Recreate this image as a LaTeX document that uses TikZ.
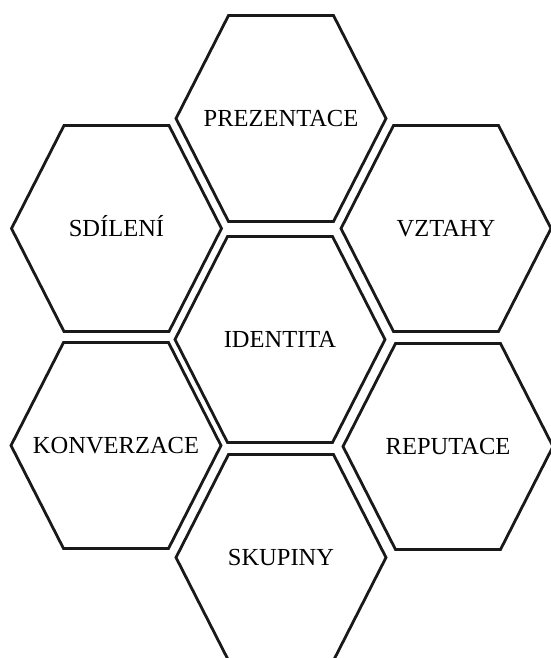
\documentclass[tikz,border=0pt]{standalone}
\usepackage{fontspec}
\setmainfont{Liberation Serif}

\begin{document}
\begin{tikzpicture}[x=1pt, y=-1pt,
  hexbox/.style={rectangle, minimum width=210pt, minimum height=206pt,
    inner sep=0pt, outer sep=0pt, text height=16pt, text depth=0pt,
    font=\fontsize{24.5}{28}\selectfont},
  hexline/.style={draw=black!90, line width=2.8pt, line join=miter}]
\clip (0,0) rectangle (551,658);
% Central cell and its column.
\node[hexbox] (identita) at (280,339.5) {IDENTITA};
\node[hexbox] (prezentace) at (281,118.5) {PREZENTACE};
\node[hexbox] (skupiny) at (281,557.5) {SKUPINY};
% Left column.
\node[hexbox] (sdileni) at (116.5,228.5) {SDÍLENÍ};
\node[hexbox] (konverzace) at (116,445.5) {KONVERZACE};
% Right column.
\node[hexbox] (vztahy) at (446,228.5) {VZTAHY};
\node[hexbox] (reputace) at (448,446.5) {REPUTACE};
% Hexagon outline round each cell.
\foreach \n in {identita,prezentace,skupiny,sdileni,konverzace,vztahy,reputace}
  \draw[hexline] (\n.west) -- ([xshift=52.5pt]\n.north west)
    -- ([xshift=-52.5pt]\n.north east) -- (\n.east)
    -- ([xshift=-52.5pt]\n.south east) -- ([xshift=52.5pt]\n.south west) -- cycle;
\end{tikzpicture}
\end{document}
